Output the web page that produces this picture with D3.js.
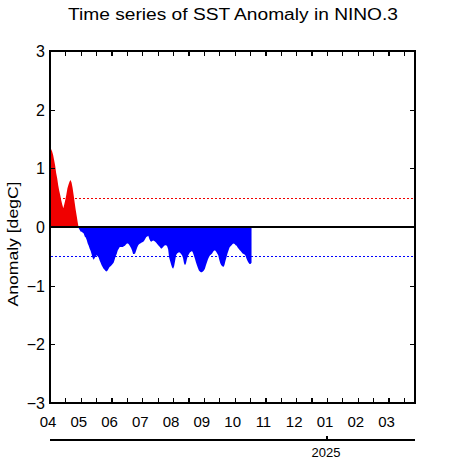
<!DOCTYPE html>
<html>
<head>
<meta charset="utf-8">
<script src="https://cdn.jsdelivr.net/npm/d3@7"></script>
<style>
  html, body { margin: 0; padding: 0; background: #fff; }
  svg { display: block; }
  text { font-family: "Liberation Sans", "DejaVu Sans", sans-serif; fill: #000; }
  line, .frame { shape-rendering: crispEdges; }
</style>
</head>
<body>
<svg id="chart" width="466" height="460"></svg>
<script>
// ---- data ----
const titleText = "Time series of SST Anomaly in NINO.3";
const yLabelText = "Anomaly [degC]";
const monthLabels = ["04","05","06","07","08","09","10","11","12","01","02","03"];
const yTickValues = [-3, -2, -1, 0, 1, 2, 3];
const yearLabels = [{ label: "2025", month: 9 }];
const thresholds = [0.5, -0.5];
const startDate = [2024, 3, 1]; // 2024-04-01, daily values
const anomaly = [
  1.34, 1.33, 1.29, 1.23, 1.14, 1.05, 0.92, 0.83, 0.71, 0.62,
  0.54, 0.45, 0.38, 0.32, 0.39, 0.47, 0.56, 0.66, 0.72, 0.77,
  0.80, 0.76, 0.67, 0.55, 0.42, 0.30, 0.19, 0.08, -0.02, -0.05,
  -0.08, -0.08, -0.10, -0.11, -0.16, -0.18, -0.22, -0.28, -0.32, -0.37,
  -0.41, -0.47, -0.53, -0.56, -0.53, -0.50, -0.48, -0.50, -0.52, -0.57,
  -0.61, -0.65, -0.68, -0.71, -0.73, -0.75, -0.76, -0.74, -0.71, -0.68,
  -0.67, -0.65, -0.63, -0.61, -0.56, -0.50, -0.46, -0.40, -0.37, -0.34,
  -0.34, -0.34, -0.34, -0.33, -0.32, -0.30, -0.28, -0.28, -0.30, -0.33,
  -0.36, -0.40, -0.46, -0.46, -0.45, -0.40, -0.35, -0.31, -0.29, -0.28,
  -0.27, -0.26, -0.25, -0.23, -0.20, -0.17, -0.16, -0.15, -0.20, -0.24,
  -0.25, -0.24, -0.23, -0.24, -0.25, -0.27, -0.29, -0.31, -0.33, -0.35,
  -0.37, -0.36, -0.34, -0.32, -0.31, -0.31, -0.33, -0.38, -0.52, -0.58,
  -0.64, -0.69, -0.71, -0.67, -0.58, -0.48, -0.45, -0.44, -0.43, -0.44,
  -0.46, -0.48, -0.53, -0.62, -0.65, -0.62, -0.54, -0.49, -0.46, -0.43,
  -0.42, -0.41, -0.44, -0.49, -0.54, -0.60, -0.65, -0.70, -0.74, -0.76,
  -0.77, -0.77, -0.76, -0.74, -0.71, -0.65, -0.60, -0.55, -0.51, -0.48,
  -0.47, -0.45, -0.42, -0.40, -0.40, -0.42, -0.45, -0.48, -0.56, -0.62,
  -0.65, -0.67, -0.68, -0.65, -0.58, -0.52, -0.45, -0.40, -0.35, -0.33,
  -0.31, -0.29, -0.28, -0.29, -0.31, -0.32, -0.35, -0.37, -0.39, -0.41,
  -0.43, -0.45, -0.46, -0.47, -0.49, -0.54, -0.58, -0.61, -0.63, -0.63,
  -0.61
];

// ---- layout ----
const L = 50, R = 415, T = 51, B = 403;
const svg = d3.select("#chart");
svg.append("rect").attr("width", 466).attr("height", 460).attr("fill", "#fff");

// x in fractional months since 2024-04
const x = d3.scaleLinear().domain([0, 11.86]).range([L, R]);
const y = d3.scaleLinear().domain([-3, 3]).range([B, T]);

function monthPos(i) {
  const dt = new Date(startDate[0], startDate[1], startDate[2] + i);
  const dim = new Date(dt.getFullYear(), dt.getMonth() + 1, 0).getDate();
  return (dt.getFullYear() - startDate[0]) * 12 + dt.getMonth() - startDate[1] + (dt.getDate() - 1) / dim;
}
const series = anomaly.map((v, i) => ({ m: monthPos(i), v }));

// clip paths for positive / negative
const defs = svg.append("defs");
defs.append("clipPath").attr("id", "pos").append("rect")
  .attr("x", L).attr("y", T).attr("width", R - L).attr("height", y(0) - T);
defs.append("clipPath").attr("id", "neg").append("rect")
  .attr("x", L).attr("y", y(0)).attr("width", R - L).attr("height", B - y(0));

const area = d3.area().x(d => x(d.m)).y0(y(0)).y1(d => y(d.v));
svg.append("path").datum(series).attr("d", area)
  .attr("fill", "rgb(240,0,0)").attr("clip-path", "url(#pos)");
svg.append("path").datum(series).attr("d", area)
  .attr("fill", "rgb(0,0,255)").attr("clip-path", "url(#neg)");

// threshold dotted lines
svg.selectAll("line.thr").data(thresholds).join("line")
  .attr("class", "thr")
  .attr("x1", L + 1).attr("x2", R)
  .attr("y1", d => Math.round(y(d)) + 0.5).attr("y2", d => Math.round(y(d)) + 0.5)
  .attr("stroke", d => d > 0 ? "rgb(240,0,0)" : "rgb(0,0,255)")
  .attr("stroke-width", 1.5)
  .attr("stroke-dasharray", "1.5,2.5");

// zero line
svg.append("line").attr("x1", L).attr("x2", R).attr("y1", y(0)).attr("y2", y(0))
  .attr("stroke", "#000").attr("stroke-width", 2);

// frame
svg.append("rect").attr("class", "frame").attr("x", L).attr("y", T).attr("width", R - L).attr("height", B - T)
  .attr("fill", "none").attr("stroke", "#000").attr("stroke-width", 1.5);

// x ticks (half-months), inward on bottom and top
const xTicks = d3.range(0.5, 11.86, 0.5);
svg.append("g").attr("transform", `translate(0,${B})`)
  .call(d3.axisTop(x).tickValues(xTicks).tickSizeInner(5).tickSizeOuter(0).tickFormat(""))
  .call(g => g.select(".domain").remove())
  .call(g => g.selectAll("line").attr("stroke-width", 1.2));
svg.append("g").attr("transform", `translate(0,${T})`)
  .call(d3.axisBottom(x).tickValues(xTicks).tickSizeInner(5).tickSizeOuter(0).tickFormat(""))
  .call(g => g.select(".domain").remove())
  .call(g => g.selectAll("line").attr("stroke-width", 1.2));

// y ticks inward on left and right
const yInner = yTickValues.filter(v => v > -3 && v < 3);
svg.append("g").attr("transform", `translate(${L},0)`)
  .call(d3.axisRight(y).tickValues(yInner).tickSizeInner(5).tickSizeOuter(0).tickFormat(""))
  .call(g => g.select(".domain").remove())
  .call(g => g.selectAll("line").attr("stroke-width", 1.2));
svg.append("g").attr("transform", `translate(${R},0)`)
  .call(d3.axisLeft(y).tickValues(yInner).tickSizeInner(5).tickSizeOuter(0).tickFormat(""))
  .call(g => g.select(".domain").remove())
  .call(g => g.selectAll("line").attr("stroke-width", 1.2));

// y tick labels
svg.selectAll("text.ylab").data(yTickValues).join("text")
  .attr("class", "ylab")
  .attr("x", 45).attr("y", d => y(d) + 6)
  .attr("text-anchor", "end")
  .attr("font-size", 16)
  .text(d => d < 0 ? "\u2212" + Math.abs(d) : String(d));

// month labels
svg.selectAll("text.mlab").data(monthLabels).join("text")
  .attr("class", "mlab")
  .attr("x", (d, i) => x(i) - 2).attr("y", 426.5)
  .attr("text-anchor", "middle")
  .attr("font-size", 15)
  .text(d => d);

// year axis
svg.append("line").attr("x1", L).attr("x2", R).attr("y1", 440).attr("y2", 440)
  .attr("stroke", "#000").attr("stroke-width", 1.2);
svg.selectAll("line.ytick").data(yearLabels).join("line")
  .attr("class", "ytick")
  .attr("x1", d => x(d.month)).attr("x2", d => x(d.month))
  .attr("y1", 440).attr("y2", 435.5)
  .attr("stroke", "#000").attr("stroke-width", 1.2);
svg.selectAll("text.yr").data(yearLabels).join("text")
  .attr("class", "yr")
  .attr("x", d => x(d.month) - 1).attr("y", 456.5)
  .attr("text-anchor", "middle")
  .attr("font-size", 13)
  .text(d => d.label);

// title
svg.append("text")
  .attr("x", 233).attr("y", 19.5)
  .attr("text-anchor", "middle")
  .attr("font-size", 16)
  .attr("textLength", 330).attr("lengthAdjust", "spacingAndGlyphs")
  .text(titleText);

// y axis label
svg.append("text")
  .attr("transform", "translate(18,244) rotate(-90)")
  .attr("text-anchor", "middle")
  .attr("font-size", 15)
  .attr("textLength", 125).attr("lengthAdjust", "spacingAndGlyphs")
  .text(yLabelText);
</script>
</body>
</html>
